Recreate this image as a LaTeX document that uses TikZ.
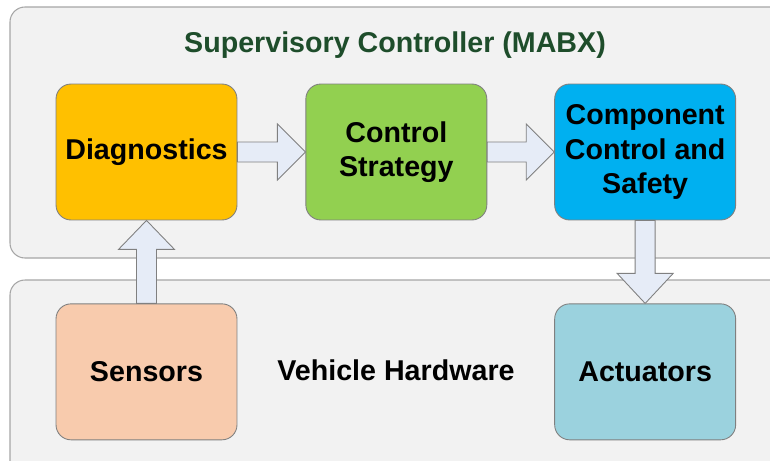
\documentclass[tikz,border=0pt]{standalone}
\usepackage{fontspec}
\setmainfont{Liberation Sans}
\usetikzlibrary{positioning, calc}
\definecolor{panelgray}{HTML}{F2F2F2}
\definecolor{panelline}{HTML}{A6A6A6}
\definecolor{edgegray}{HTML}{808080}
\definecolor{arrowfill}{HTML}{E6ECF7}
\definecolor{titlegreen}{HTML}{1E4D2B}
\definecolor{diagfill}{HTML}{FFC000}
\definecolor{ctrlfill}{HTML}{92D050}
\definecolor{compfill}{HTML}{00B0F0}
\definecolor{sensfill}{HTML}{F8CBAD}
\definecolor{actfill}{HTML}{9BD2DE}

\begin{document}
\begin{tikzpicture}[x=0.02cm, y=-0.02cm, font=\fontsize{16.3}{19.7}\selectfont\bfseries,
    block/.style={draw=edgegray, line width=0.5pt, rounded corners=0.3cm, align=center, minimum width=3.62cm, minimum height=2.72cm, inner sep=2pt},
    panel/.style={draw=panelline, line width=0.6pt, fill=panelgray, rounded corners=0.3cm},
    fatarrow/.style={draw=edgegray, line width=0.5pt, fill=arrowfill, line join=miter}
]
  \useasboundingbox (0,0) rectangle (770,460);
  \clip (0,0) rectangle (770,460);
  \fill[white] (0,0) rectangle (770,460);

  % Panels
  \draw[panel] (10,7) rectangle (790,258);
  \draw[panel] (10,280) rectangle (790,480);
  \node[text=titlegreen] (title) at (395,45.5) {Supervisory Controller (MABX)};
  \node (hwlabel) at (396,370) {Vehicle Hardware};

  % Blocks
  \node[block, fill=diagfill] (diag) at (146.5,152) {Diagnostics};
  \node[block, fill=ctrlfill, right=1.36cm of diag] (ctrl) {Control\\Strategy};
  \node[block, fill=compfill, right=1.34cm of ctrl] (comp) {Component\\Control and\\Safety};
  \node[block, fill=sensfill, below=1.66cm of diag] (sens) {Sensors};
  \node[block, fill=actfill, below=1.66cm of comp] (act) {Actuators};

  % Block arrows
  \draw[fatarrow] ($(diag.east)+(0,-10)$) -- ($(ctrl.west)+(-28,-10)$) -- ($(ctrl.west)+(-28,-28)$)
    -- (ctrl.west) -- ($(ctrl.west)+(-28,28)$) -- ($(ctrl.west)+(-28,10)$) -- ($(diag.east)+(0,10)$) -- cycle;
  \draw[fatarrow] ($(ctrl.east)+(0,-10)$) -- ($(comp.west)+(-28,-10)$) -- ($(comp.west)+(-28,-28)$)
    -- (comp.west) -- ($(comp.west)+(-28,28)$) -- ($(comp.west)+(-28,10)$) -- ($(ctrl.east)+(0,10)$) -- cycle;
  \draw[fatarrow] ($(sens.north)+(-10,0)$) -- ($(diag.south)+(-10,29)$) -- ($(diag.south)+(-28,29)$)
    -- (diag.south) -- ($(diag.south)+(28,29)$) -- ($(diag.south)+(10,29)$) -- ($(sens.north)+(10,0)$) -- cycle;
  \draw[fatarrow] ($(comp.south)+(-10,0)$) -- ($(act.north)+(-10,-30)$) -- ($(act.north)+(-28,-30)$)
    -- (act.north) -- ($(act.north)+(28,-30)$) -- ($(act.north)+(10,-30)$) -- ($(comp.south)+(10,0)$) -- cycle;
\end{tikzpicture}
\end{document}
